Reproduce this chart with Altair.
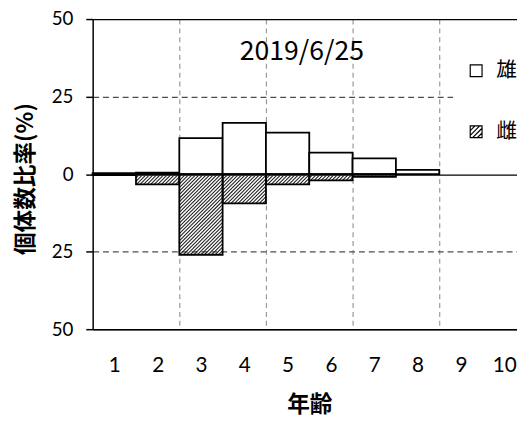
import altair as alt
import pandas as pd

# ---- data ----
ages = [1, 2, 3, 4, 5, 6, 7, 8, 9, 10]
male = [0.3, 0.5, 11.6, 16.5, 13.4, 6.9, 5.1, 1.4, 0.0, 0.0]
female = [0.3, 3.3, 26.0, 9.4, 3.3, 2.0, 0.9, 0.0, 0.0, 0.0]
sexes = ["雄", "雌"]
y_ticks = [-50, -25, 0, 25, 50]
x_grid = [2.5, 4.5, 6.5, 8.5]
date_text = ["2019/6/25"]
x_title = "年齢"
y_title = "個体数比率(%)"

rows = []
for a, m, f in zip(ages, male, female):
    rows.append({"age": a, "sex": "雄", "value": m})
    rows.append({"age": a, "sex": "雌", "value": -f})
df = pd.DataFrame(rows)
legend_df = pd.DataFrame({"sex": sexes})
date_df = pd.DataFrame({"label": date_text})

# ---- layout constants ----
PAD_L = 86
W, H = 431, 315
KX = 44.0               # px per age unit
KY = H / 100.0          # px per percent
XMAX = 0.5 + W / KX
HATCH = 3.6             # horizontal spacing of hatch lines (px)

xscale = alt.Scale(domain=[0.5, XMAX], nice=False, zero=False)
yscale = alt.Scale(domain=[-50, 50], nice=False, zero=False)

JP = "Noto Sans CJK JP"
NUM = "Lato"

x_axis = alt.Axis(
    values=ages + x_grid, tickCount=30,
    labelExpr="datum.value % 1 == 0 ? format(datum.value, 'd') : ''",
    ticks=False, tickSize=0,
    labelPadding=37, labelBaseline="middle",
    labelFont=NUM, labelFontSize=21, labelColor="black",
    labelOverlap=False, labelFlush=False,
    domainColor="black", domainWidth=1.5,
    grid=True, gridColor="#999999", gridDash=[5, 4], gridWidth=1.2,
    gridOpacity={"condition": {"test": "datum.value % 1 == 0", "value": 0}, "value": 1},
    title=x_title, titleFont=JP, titleFontSize=23, titleFontWeight="bold",
    titleColor="black", titleX=220, titleY=77, titleBaseline="middle",
)

y_axis = alt.Axis(
    values=y_ticks, tickCount=10,
    labelExpr="format(abs(datum.value), 'd')",
    tickSize=7, tickColor="black", tickWidth=1.5,
    labelFont=NUM, labelFontSize=19, labelColor="black", labelPadding=13,
    labelFlush=False, labelOverlap=False,
    domainColor="black", domainWidth=1.5,
    grid=True,
    gridColor={"condition": {"test": "abs(datum.value) == 25", "value": "#4d4d4d"}, "value": "black"},
    gridDash={"condition": {"test": "abs(datum.value) == 25", "value": [6, 4]}, "value": []},
    gridWidth=1.3,
    title=y_title, titleFont=JP, titleFontSize=23, titleFontWeight="bold",
    titleColor="black", titleX=-68, titleY=162, titleAngle=-90, titleBaseline="middle",
)

base = alt.Chart(df).transform_filter("datum.value != 0").transform_calculate(
    lo="datum.age - 0.5", hi="datum.age + 0.5", zero="0"
)

males = base.transform_filter("datum.sex == '雄'").mark_bar(
    fill="white", stroke="black", strokeWidth=1.8
).encode(
    x=alt.X("lo:Q", scale=xscale, axis=x_axis),
    x2="hi:Q",
    y=alt.Y("value:Q", scale=yscale, axis=y_axis),
    y2="zero:Q",
)

hatch = alt.Chart(df).transform_filter(
    "datum.sex == '雌' && datum.value < 0"
).transform_calculate(
    hp=f"-datum.value * {KY}",
    ph=f"{HATCH} - (((datum.age - 1) * {KX} + {H / 2}) % {HATCH})",
    k="sequence(0, 120)",
).transform_flatten(["k"]).transform_calculate(
    c=f"datum.ph + {HATCH} * datum.k"
).transform_filter(f"datum.c < {KX} + datum.hp").transform_calculate(
    hx1=f"datum.age - 0.5 + max(0, datum.c - datum.hp) / {KX}",
    hy1=f"-(datum.c - max(0, datum.c - datum.hp)) / {KY}",
    hx2=f"datum.age - 0.5 + min({KX}, datum.c) / {KX}",
    hy2=f"-(datum.c - min({KX}, datum.c)) / {KY}",
).mark_rule(color="#222222", strokeWidth=1.1).encode(
    x=alt.X("hx1:Q", scale=xscale, title=x_title),
    y=alt.Y("hy1:Q", scale=yscale, title=y_title),
    x2="hx2:Q",
    y2="hy2:Q",
)

females = base.transform_filter("datum.sex == '雌'").mark_bar(
    fill="white", fillOpacity=0, stroke="black", strokeWidth=1.8
).encode(
    x=alt.X("lo:Q", scale=xscale, title=x_title),
    x2="hi:Q",
    y=alt.Y("value:Q", scale=yscale, title=y_title),
    y2="zero:Q",
)

date = alt.Chart(date_df).mark_text(
    font=JP, fontSize=27, align="center", baseline="middle", color="black"
).encode(
    text="label:N",
    x=alt.X(datum=5.33, scale=xscale, title=x_title),
    y=alt.Y(datum=39.4, scale=yscale, title=y_title),
)

hatch_path = ("M-1,-1H1V1H-1Z M-1,-0.2L-0.2,-1 M-1,0.6L0.6,-1 "
              "M-0.6,1L1,-0.6 M0.2,1L1,0.2")

legend_props = dict(
    title=None, orient="none", legendX=366, legendY=29,
    fillColor="white", padding=13, rowPadding=40,
    labelFont=JP, labelFontSize=21, labelColor="black", labelOffset=10,
    symbolSize=144, symbolStrokeWidth=1.2, symbolOpacity=1,
)

# legend only: explicit domains, the layer itself draws no points
leg = alt.Chart(legend_df).transform_filter("false").mark_point(
    filled=False, strokeWidth=1.2, opacity=1
).encode(
    shape=alt.Shape(
        "sex:N",
        scale=alt.Scale(domain=sexes, range=["square", hatch_path]),
        legend=alt.Legend(**legend_props),
    ),
    color=alt.Color(
        "sex:N",
        scale=alt.Scale(domain=sexes, range=["black", "black"]),
        legend=alt.Legend(**legend_props),
    ),
)

chart = alt.layer(males, hatch, females, date, leg).properties(
    width=W,
    height=H,
    autosize=alt.AutoSizeParams(type="none"),
    padding={"left": PAD_L, "top": 8, "right": 0, "bottom": 89},
).configure(background="white").configure_view(stroke=None)

chart.save("out.html", embed_options={"renderer": "svg", "actions": False})
